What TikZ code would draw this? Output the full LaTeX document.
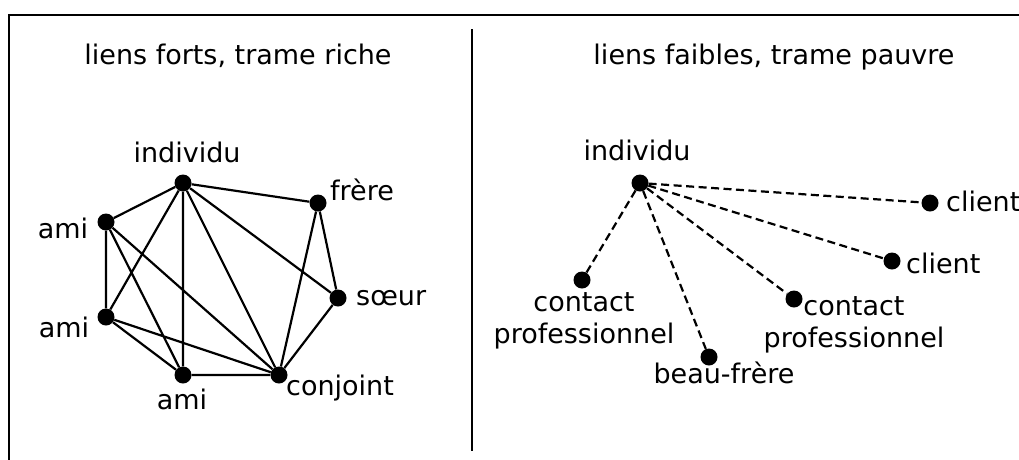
\documentclass[tikz,border=0pt]{standalone}
\usepackage{fontspec}
\setmainfont{DejaVu Sans}
\begin{document}
\begin{tikzpicture}[x=1pt,y=-1pt,
  dot/.style={circle,fill=black,inner sep=0pt,minimum size=17pt},
  lbl/.style={anchor=base,inner sep=0pt,font=\fontsize{27}{32}\selectfont,align=center},
  lblw/.style={anchor=base west,inner sep=0pt,font=\fontsize{27}{32}\selectfont},
  strong/.style={line width=2.2pt},
  weak/.style={line width=2.2pt,dash pattern=on 8pt off 4.5pt},
  frame/.style={line width=2.2pt}]
\useasboundingbox (0,0) rectangle (1019,459);
% frame
\coordinate (fbl) at (9,460);
\coordinate (ftl) at (9,15);
\coordinate (ftr) at (1020,15);
\draw[frame] (fbl) -- (ftl) -- (ftr);
\coordinate (dtop) at (472,29);
\coordinate (dbot) at (472,451);
\draw[frame] (dtop) -- (dbot);
% titles
\node[lbl] (t1) at (238,64) {liens forts, trame riche};
\node[lbl] (t2) at (774,64) {liens faibles, trame pauvre};
% left graph
\node[dot] (ind) at (183,183) {};
\node[dot] (a1) at (106,222) {};
\node[dot] (a2) at (106,317) {};
\node[dot] (a3) at (183,375) {};
\node[dot] (con) at (279,375) {};
\node[dot] (fr) at (318,203) {};
\node[dot] (so) at (338,298) {};
\node[lbl] (lind) at (187,162) {individu};
\node[lbl] (la1) at (63,238) {ami};
\node[lbl] (la2) at (64,337) {ami};
\node[lbl] (la3) at (182,409) {ami};
\node[lblw] (lcon) at (286,395) {conjoint};
\node[lblw] (lfr) at (330,200) {frère};
\node[lblw] (lso) at (356,305) {sœur};
\draw[strong] (ind) -- (a1) (ind) -- (fr) (ind) -- (a2) (ind) -- (a3)
  (ind) -- (con) (ind) -- (so) (a1) -- (a2) (a1) -- (a3) (a1) -- (con)
  (a2) -- (a3) (a2) -- (con) (a3) -- (con) (fr) -- (so) (fr) -- (con)
  (so) -- (con);
% right graph
\node[dot] (rind) at (640,183) {};
\node[dot] (c1) at (930,203) {};
\node[dot] (c2) at (892,261) {};
\node[dot] (cp2) at (794,299) {};
\node[dot] (bf) at (709,357) {};
\node[dot] (cp1) at (582,280) {};
\node[lbl] (lrind) at (637,160) {individu};
\node[lblw] (lc1) at (946,211) {client};
\node[lblw] (lc2) at (906,273) {client};
\node[lbl] (lcp2) at (854,347) {contact\\professionnel};
\node[lbl] (lcp1) at (584,343) {contact\\professionnel};
\node[lbl] (lbf) at (724,383) {beau-frère};
\draw[weak] (rind) -- (c1) (rind) -- (c2) (rind) -- (cp2) (rind) -- (bf) (rind) -- (cp1);
\end{tikzpicture}
\end{document}
